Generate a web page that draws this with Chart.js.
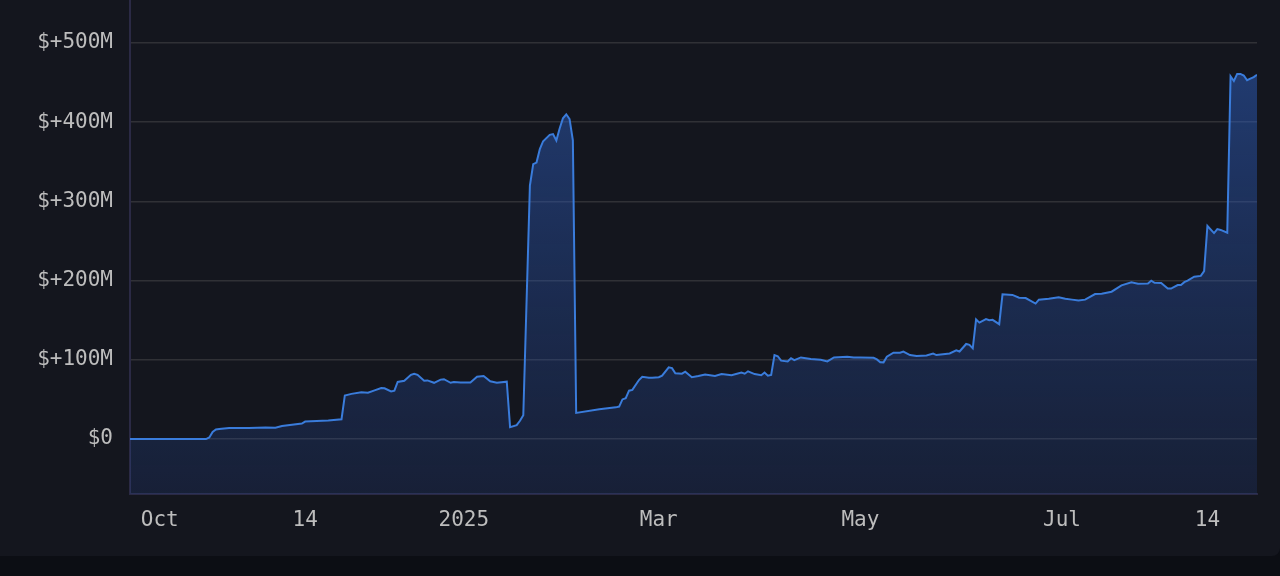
<!DOCTYPE html>
<html>
<head>
<meta charset="utf-8">
<script src="https://cdn.jsdelivr.net/npm/chart.js@4.4.1/dist/chart.umd.min.js"></script>
<style>
  html, body { margin: 0; padding: 0; background: #0c0e14; width: 1280px; height: 576px; overflow: hidden; }
  #card { position: absolute; left: 0; top: 0; width: 1280px; height: 556px; background: #14161e; border-bottom-right-radius: 8px; }
  #wrap { position: absolute; left: 0; top: 0; width: 1280px; height: 556px; }
</style>
</head>
<body>
<div id="card"></div>
<div id="wrap"><canvas id="c"></canvas></div>
<script>
const dates = [
  '2024-09-22','2024-10-15','2024-10-16','2024-10-17','2024-10-18','2024-10-19','2024-10-22','2024-10-28',
  '2024-11-02','2024-11-05','2024-11-07','2024-11-10','2024-11-13','2024-11-14','2024-11-21','2024-11-25',
  '2024-11-26','2024-11-28','2024-12-01','2024-12-03','2024-12-05','2024-12-07','2024-12-08','2024-12-10',
  '2024-12-11','2024-12-12','2024-12-14','2024-12-16','2024-12-17','2024-12-18','2024-12-20','2024-12-21',
  '2024-12-23','2024-12-25','2024-12-26','2024-12-28','2024-12-29','2024-12-31','2025-01-03','2025-01-05',
  '2025-01-07','2025-01-09','2025-01-11','2025-01-14','2025-01-15','2025-01-17','2025-01-18','2025-01-19',
  '2025-01-21','2025-01-22','2025-01-23','2025-01-24','2025-01-25','2025-01-27','2025-01-28','2025-01-29',
  '2025-01-30','2025-01-31','2025-02-01','2025-02-02','2025-02-03','2025-02-04','2025-02-11','2025-02-16',
  '2025-02-17','2025-02-18','2025-02-19','2025-02-20','2025-02-21','2025-02-23','2025-02-24','2025-02-26',
  '2025-02-27','2025-03-01','2025-03-02','2025-03-04','2025-03-05','2025-03-06','2025-03-08','2025-03-09',
  '2025-03-11','2025-03-13','2025-03-15','2025-03-18','2025-03-20','2025-03-23','2025-03-26','2025-03-27',
  '2025-03-28','2025-03-30','2025-04-01','2025-04-02','2025-04-03','2025-04-04','2025-04-05','2025-04-06',
  '2025-04-07','2025-04-09','2025-04-10','2025-04-11','2025-04-13','2025-04-16','2025-04-19','2025-04-21',
  '2025-04-23','2025-04-27','2025-04-29','2025-05-01','2025-05-05','2025-05-06','2025-05-07','2025-05-08',
  '2025-05-09','2025-05-11','2025-05-13','2025-05-14','2025-05-16','2025-05-18','2025-05-21','2025-05-23',
  '2025-05-24','2025-05-28','2025-05-30','2025-05-31','2025-06-02','2025-06-03','2025-06-04','2025-06-05',
  '2025-06-06','2025-06-08','2025-06-09','2025-06-10','2025-06-12','2025-06-13','2025-06-16','2025-06-18',
  '2025-06-20','2025-06-23','2025-06-24','2025-06-27','2025-06-30','2025-07-02','2025-07-04','2025-07-06',
  '2025-07-08','2025-07-11','2025-07-13','2025-07-16','2025-07-19','2025-07-22','2025-07-24','2025-07-27',
  '2025-07-28','2025-07-29','2025-07-31','2025-08-02','2025-08-03','2025-08-05','2025-08-06','2025-08-07',
  '2025-08-08','2025-08-10','2025-08-12','2025-08-13','2025-08-14','2025-08-16','2025-08-17','2025-08-18',
  '2025-08-20','2025-08-21','2025-08-22','2025-08-23','2025-08-24','2025-08-25','2025-08-26','2025-08-27',
  '2025-08-28','2025-08-29'
];
// values in millions of USD
const values = [
  0, 0, 2, 9, 12, 12.8, 13.8, 14,
  14.5, 14.2, 16.5, 18, 19.5, 22, 23.5, 25,
  55, 57, 59, 58.5, 61.5, 64.5, 64, 60,
  61, 72, 73.5, 81, 82.5, 81, 73.5, 74,
  71, 75, 75.5, 71, 72, 71.5, 71.5, 78.7,
  79.5, 73, 71, 72.4, 15, 17.5, 23, 30,
  320, 347, 349, 366, 376, 384, 385, 377,
  392, 405, 410, 404, 377, 33, 37.5, 40,
  41, 50, 51.5, 61, 62, 74.5, 78.7, 77.5,
  77.5, 78, 80, 90.5, 89.5, 83, 82.5, 85,
  78, 79.5, 81.5, 79.5, 82, 80.5, 84, 82.5,
  85.5, 82, 80.5, 84, 80, 81, 106, 104.5,
  99, 98, 102, 99.5, 103, 101, 100, 98,
  103, 104, 103, 103, 102.5, 100.5, 97, 96.8,
  104, 109, 109, 110.5, 106, 104.8, 105.5, 108,
  106, 108, 112, 110.5, 120, 119, 114.5, 151,
  147, 151.5, 150, 150.5, 145, 182.7, 182, 178.5,
  178, 171, 176, 177, 179, 177, 176, 175,
  176, 183, 183.5, 186, 194, 197.8, 196, 196.5,
  200, 197.3, 197, 190, 190, 194.4, 194.5, 198,
  200, 205, 206, 212, 269, 260, 265, 264,
  260.5, 458, 452, 461, 461, 459, 453, 455,
  457, 460
];
const tickDates = ['2024-10-01','2024-11-14','2025-01-01','2025-03-01','2025-05-01','2025-07-01','2025-08-14'];
const tickLabels = ['Oct','14','2025','Mar','May','Jul','14'];
const yTicks = [0, 100, 200, 300, 400, 500];
const yTickLabels = ['$0','$+100M','$+200M','$+300M','$+400M','$+500M'];

const DAY = 86400000;
const base = Date.parse('2024-10-01T00:00:00Z');
const toDay = d => (Date.parse(d + 'T00:00:00Z') - base) / DAY;
const points = dates.map((d, i) => ({ x: toDay(d), y: values[i] }));
const tickDays = tickDates.map(toDay);

const font = { family: '"DejaVu Sans Mono", "Liberation Mono", monospace', size: 21 };

new Chart(document.getElementById('c'), {
  type: 'line',
  data: {
    datasets: [{
      data: points,
      borderColor: '#3a7cdb',
      borderWidth: 2,
      pointRadius: 0,
      tension: 0,
      fill: 'start',
      backgroundColor: (ctx) => {
        const { chart } = ctx;
        const area = chart.chartArea;
        if (!area) return 'rgba(45,95,190,0.3)';
        const g = chart.ctx.createLinearGradient(0, area.top, 0, area.bottom);
        g.addColorStop(0, 'rgba(48,100,200,0.55)');
        g.addColorStop(1, 'rgba(40,80,170,0.18)');
        return g;
      }
    }]
  },
  options: {
    responsive: true,
    maintainAspectRatio: false,
    animation: false,
    layout: { padding: { left: 0, right: 23, top: 0, bottom: 0 } },
    plugins: { legend: { display: false }, tooltip: { enabled: false } },
    scales: {
      x: {
        type: 'linear',
        min: toDay(dates[0]),
        max: toDay(dates[dates.length - 1]),
        afterBuildTicks: (s) => { s.ticks = tickDays.map(v => ({ value: v })); },
        afterFit: (s) => { s.height = 62; s.paddingLeft = 0; s.paddingRight = 0; },
        grid: { display: false, drawTicks: false },
        border: { display: true, color: '#2b2a45', width: 2 },
        ticks: {
          autoSkip: false, maxRotation: 0, color: '#bdbdbd', font, padding: 14,
          callback: (v, i) => tickLabels[i]
        }
      },
      y: {
        min: -69.4,
        max: 554.3,
        afterBuildTicks: (s) => { s.ticks = yTicks.map(v => ({ value: v })); },
        afterFit: (s) => { s.width = 130; s.paddingTop = 0; s.paddingBottom = 0; },
        grid: { color: '#303136', lineWidth: 1.5, drawTicks: false },
        border: { display: true, color: '#2b2a45', width: 2 },
        ticks: {
          color: '#bdbdbd', font, padding: 17,
          callback: (v, i) => yTickLabels[i]
        }
      }
    }
  }
});
</script>
</body>
</html>
